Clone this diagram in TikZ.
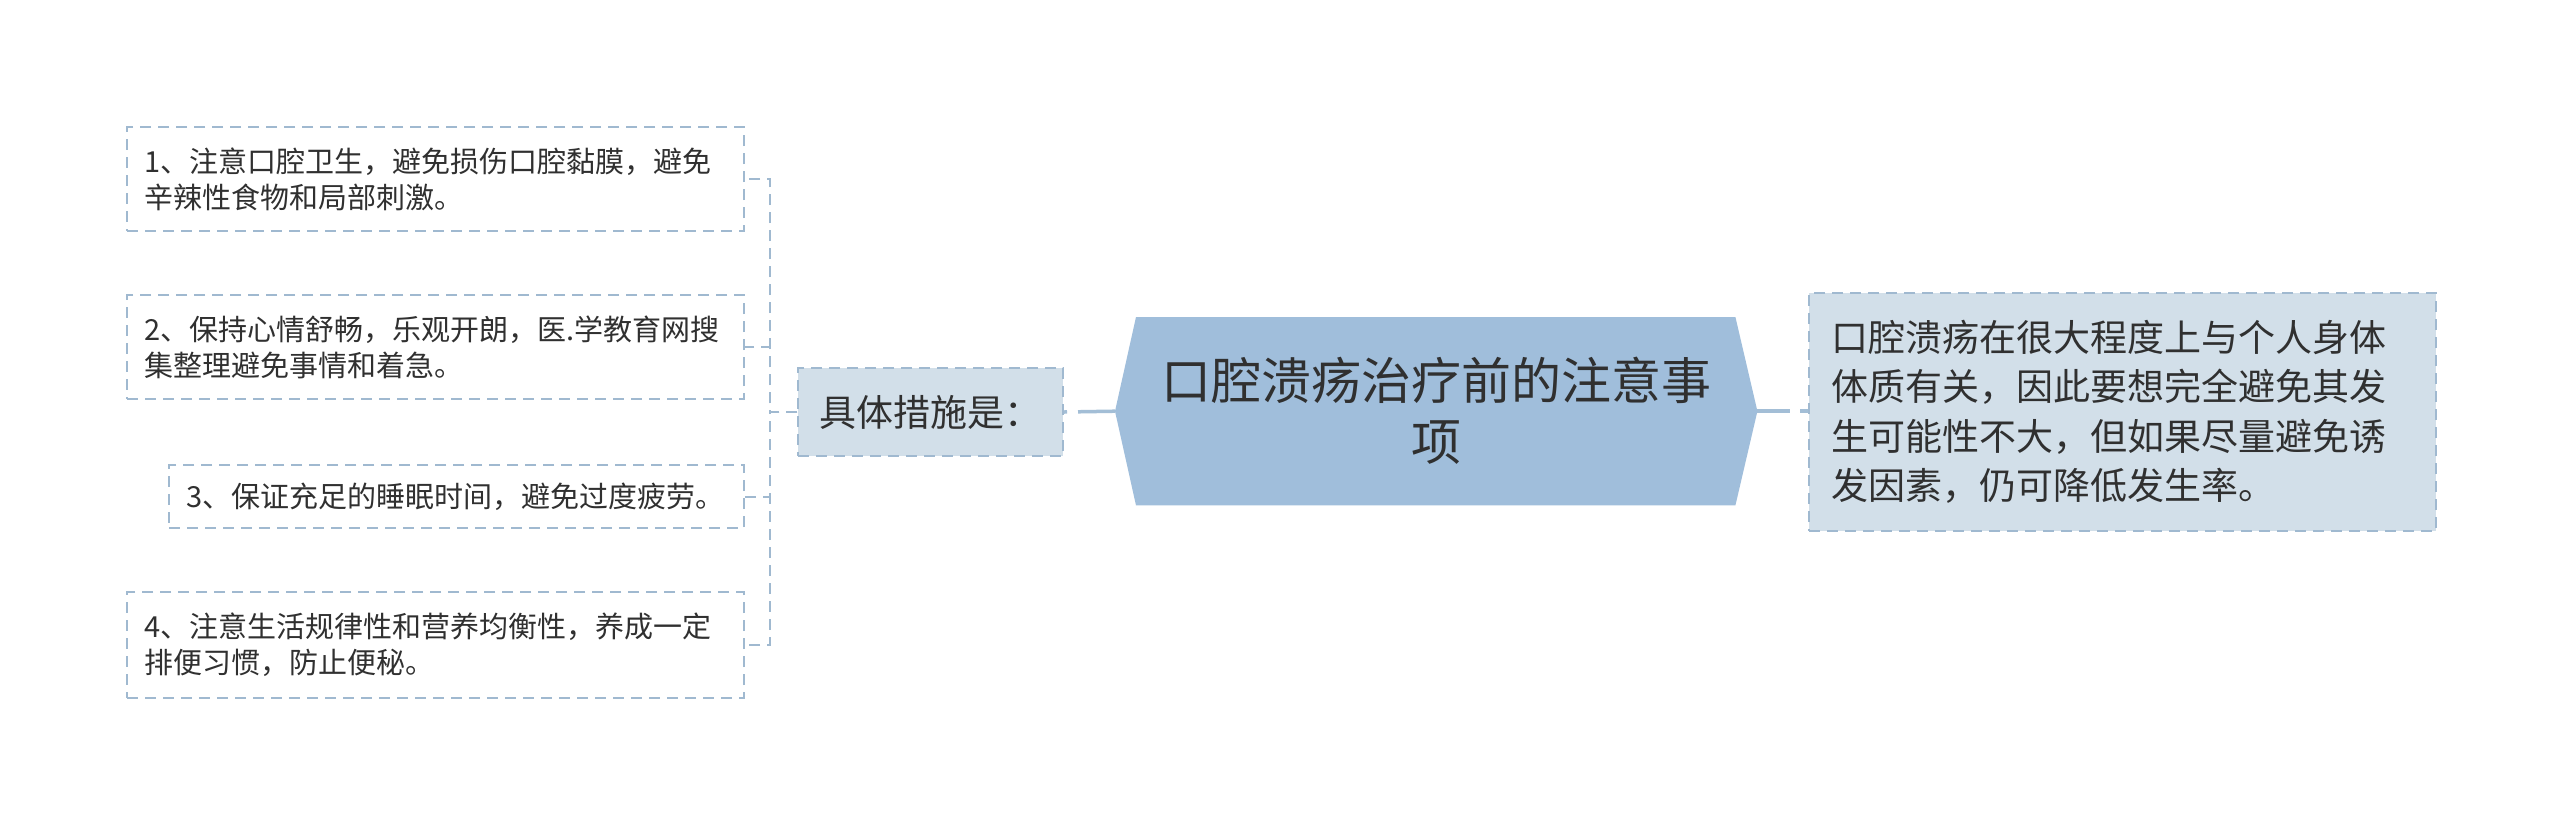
\documentclass[tikz,border=0pt]{standalone}
\usepackage{fontspec}
\setmainfont{Noto Sans CJK SC}
\definecolor{bordc}{HTML}{A0B9D0}
\definecolor{linec}{HTML}{A3BED6}
\definecolor{lightf}{HTML}{D2DFE9}
\definecolor{hexf}{HTML}{A0BEDB}
\definecolor{txt}{HTML}{303030}
\tikzset{
  leafbox/.style={draw=bordc, line width=2pt, dash pattern=on 11pt off 7pt, fill=white,
    anchor=north west, inner xsep=17pt, inner ysep=0pt, align=left, text=txt,
    font=\fontsize{29}{36}\selectfont},
  midbox/.style={draw=bordc, line width=2pt, dash pattern=on 11pt off 7pt, fill=lightf,
    anchor=north west, inner sep=0pt, align=center, text=txt,
    minimum width=265pt, minimum height=88pt, font=\fontsize{37}{49}\selectfont},
  rightbox/.style={draw=bordc, line width=2pt, dash pattern=on 11pt off 7pt, fill=lightf,
    anchor=north west, inner xsep=22pt, inner ysep=0pt, align=left, text=txt,
    minimum width=627pt, minimum height=238pt, text width=583pt,
    font=\fontsize{37}{49.5}\selectfont},
  mainbox/.style={anchor=north west, inner sep=0pt, align=center, text=txt,
    minimum width=642pt, minimum height=188pt, font=\fontsize{50}{61}\selectfont},
  dline/.style={draw=bordc, line width=2pt, dash pattern=on 11pt off 7pt},
}
\begin{document}
\begin{tikzpicture}[x=1pt,y=-1pt]
\useasboundingbox[fill=white] (0,0) rectangle (2560,823);

% leaf boxes
\node[leafbox, text width=583pt, minimum height=104pt] (b1) at (126,126)
  {1、注意口腔卫生，避免损伤口腔黏膜，避免\\辛辣性食物和局部刺激。};
\node[leafbox, text width=583pt, minimum height=104pt] (b2) at (126,294)
  {2、保持心情舒畅，乐观开朗，医.学教育网搜\\集整理避免事情和着急。};
\node[leafbox, text width=541pt, minimum height=63pt] (b3) at (168,464)
  {3、保证充足的睡眠时间，避免过度疲劳。};
\node[leafbox, text width=583pt, minimum height=106pt] (b4) at (126,591)
  {4、注意生活规律性和营养均衡性，养成一定\\排便习惯，防止便秘。};

% middle box
\node[midbox] (j) at (797,367) {具体措施是：};

% main hexagon
\node[mainbox] (main) at (1115,317) {};
\fill[hexf] (main.west) -- ([xshift=21pt]main.north west) -- ([xshift=-22pt]main.north east)
  -- (main.east) -- ([xshift=-22pt]main.south east) -- ([xshift=21pt]main.south west) -- cycle;
\node[mainbox] (maintext) at (1115,317) {口腔溃疡治疗前的注意事\\项};

% right box
\node[rightbox] (r) at (1808,292)
  {口腔溃疡在很大程度上与个人身体\\体质有关，因此要想完全避免其发\\生可能性不大，但如果尽量避免诱\\发因素，仍可降低发生率。};

% connectors
\draw[dline] (j.west) -- ++(-27,0) |- (b1.east);
\draw[dline] (j.west) -- ++(-27,0) |- (b2.east);
\draw[dline] (j.west) -- ++(-27,0) |- (b3.east);
\draw[dline] (j.west) -- ++(-27,0) |- (b4.east);
\draw[draw=linec, line width=3.5pt, dash pattern=on 37pt off 11pt on 20pt] (main.west) -- (j.east);
\draw[draw=linec, line width=3.5pt, dash pattern=on 33pt off 10pt on 20pt] (main.east) -- (main.east -| r.west);
\end{tikzpicture}
\end{document}
